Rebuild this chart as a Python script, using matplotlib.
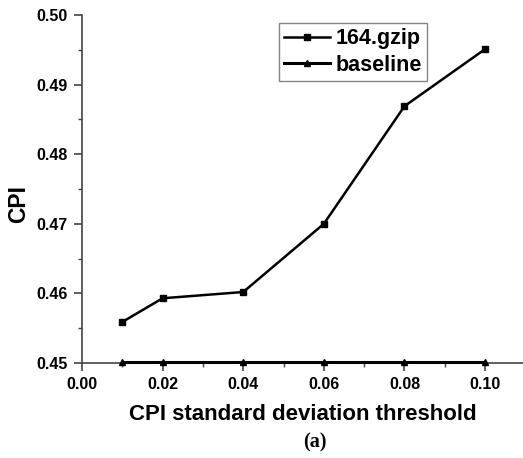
import matplotlib
matplotlib.use("Agg")
from matplotlib import pyplot as plt
from matplotlib.ticker import MultipleLocator
import numpy as np

thresholds = [0.01, 0.02, 0.04, 0.06, 0.08, 0.10]
gzip_cpi = [0.4559, 0.4593, 0.4602, 0.4700, 0.4869, 0.4951]
baseline_cpi = [0.4501, 0.4501, 0.4501, 0.4501, 0.4501, 0.4501]

plt.rcParams['font.family'] = ['Liberation Sans', 'DejaVu Sans']
plt.rcParams['font.weight'] = 'bold'

fig = plt.figure(figsize=(5.23, 4.58), dpi=100)
ax = fig.add_axes([82/523, 1-363/458, 1-82/523, 348/458])

ax.plot(thresholds, gzip_cpi, color='black', lw=1.8, marker='s', ms=5,
        label='164.gzip', clip_on=False, zorder=3)
ax.plot(thresholds, baseline_cpi, color='black', lw=2.2, marker='^', ms=5,
        label='baseline', clip_on=False, zorder=3)

ax.set_xlim(0, 0.1094)
ax.set_ylim(0.45, 0.50)
ax.xaxis.set_major_locator(MultipleLocator(0.02))
ax.xaxis.set_minor_locator(MultipleLocator(0.01))
ax.yaxis.set_major_locator(MultipleLocator(0.01))
ax.yaxis.set_minor_locator(MultipleLocator(0.005))
ax.xaxis.set_major_formatter(plt.FormatStrFormatter('%.2f'))
ax.yaxis.set_major_formatter(plt.FormatStrFormatter('%.2f'))

for s in ['top', 'right']:
    ax.spines[s].set_visible(False)
for s in ['left', 'bottom']:
    ax.spines[s].set_color('#444444')
    ax.spines[s].set_linewidth(1.2)

ax.tick_params(which='major', direction='out', length=6, width=1.2,
               color='#444444', labelsize=11.5, pad=4)
ax.tick_params(which='minor', direction='out', length=3, width=1.0,
               color='#444444')
for lab in ax.get_xticklabels() + ax.get_yticklabels():
    lab.set_fontweight('bold')

ax.set_xlabel('CPI standard deviation threshold', fontsize=16,
              fontweight='bold')
ax.xaxis.set_label_coords(303/523, 1-404/458, transform=fig.transFigure)
ax.set_ylabel('CPI', fontsize=16.5, fontweight='bold')
ax.yaxis.set_label_coords(30/523, 1-204/458, transform=fig.transFigure)

leg = ax.legend(loc='upper left', bbox_to_anchor=(279/523, 1-23/458),
                bbox_transform=fig.transFigure, fontsize=15.5, handlelength=2.1,
                handletextpad=0.28, borderpad=0.25, labelspacing=0.25,
                borderaxespad=0, markerscale=0.75,
                fancybox=False, frameon=True)
leg.get_frame().set_edgecolor('#666666')
leg.get_frame().set_linewidth(1.0)
for t in leg.get_texts():
    t.set_fontweight('bold')

fig.text(315/523, 1-442/458, '(a)', ha='center', va='center', fontsize=14.5,
         fontweight='bold', family='Liberation Serif')

fig.savefig('out.png', dpi=100)
